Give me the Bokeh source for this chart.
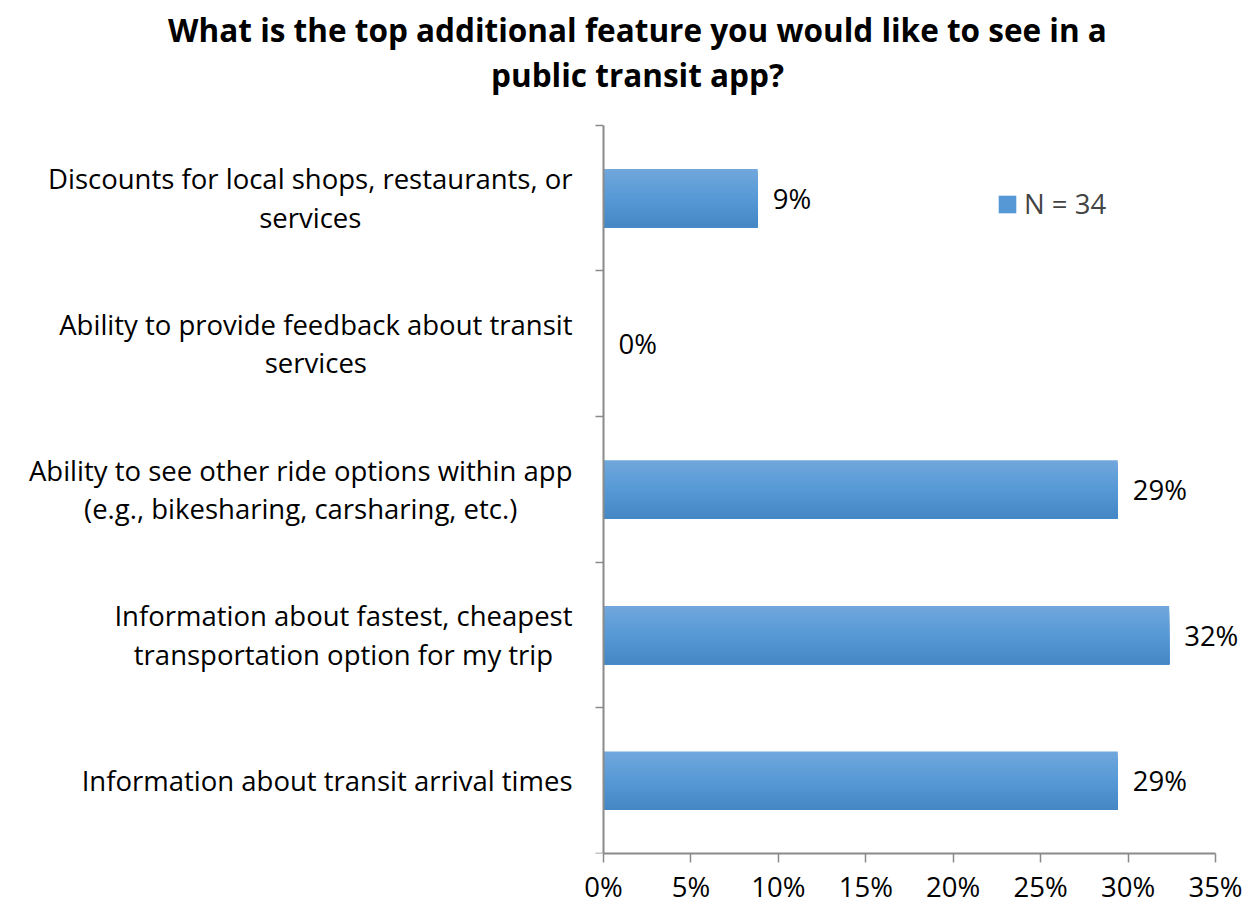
from bokeh.plotting import figure
from bokeh.models import (Range1d, FixedTicker, PrintfTickFormatter, ColumnDataSource,
                          LabelSet, Label, Legend, LegendItem)
from bokeh.core.properties import value
from bokeh.transform import dodge
from bokeh.embed import file_html
from bokeh.resources import INLINE

# ---- data ----
title_lines = ["What is the top additional feature you would like to see in a",
               "public transit app?"]
categories = [
    "Discounts for local shops, restaurants, or\nservices",
    "Ability to provide feedback about transit\nservices",
    "Ability to see other ride options within app\n(e.g., bikesharing, carsharing, etc.)",
    "Information about fastest, cheapest\ntransportation option for my trip",
    "Information about transit arrival times",
]
values = [8.82, 0.0, 29.41, 32.35, 29.41]
value_labels = ["9%", "0%", "29%", "32%", "29%"]
series_name = "N = 34"
x_ticks = [0, 5, 10, 15, 20, 25, 30, 35]

FONT = "Open Sans"
FS = "27.5px"
GRAY = "#8a8a8a"

# ---- layout constants (pixels) ----
W, H = 1250, 907
FL = 12            # frame left edge
AXIS_X = 603       # pixel where value 0 sits
AXIS_R = 1215      # pixel where the last tick sits
AXIS_TOP = 125     # top of the category area
AXIS_BOT = 855     # frame bottom / x axis
n = len(categories)
X_MAX = x_ticks[-1]
ppu = (AXIS_R - AXIS_X) / X_MAX
x_start = -(AXIS_X - FL) / ppu
x_end = (W - AXIS_X) / ppu
slot_px = (AXIS_BOT - AXIS_TOP) / n
y_end = n + AXIS_TOP / slot_px

pos = [n - i - 0.5 for i in range(n)]  # slot centres, top to bottom
src = ColumnDataSource(dict(cat=categories, pos=pos, value=values, label=value_labels))

p = figure(width=W, height=H, output_backend="svg", toolbar_location=None,
           y_range=Range1d(0, y_end), x_range=Range1d(x_start, x_end),
           min_border_left=FL, min_border_right=0, min_border_top=0,
           min_border_bottom=H - AXIS_BOT)
p.outline_line_color = None
p.xgrid.grid_line_color = None
p.ygrid.grid_line_color = None

# gradient bars: stacked bands, each reaching the bar bottom (light top -> dark bottom)
top_c = (112, 167, 220)
mid_c = (86, 153, 214)
bot_c = (70, 135, 198)
N = 24
bar_h = 0.40
hb = bar_h / N
mid_renderer = None
for i in range(N):
    t = i / (N - 1)
    if t < 0.5:
        a, b, tt = top_c, mid_c, t / 0.5
    else:
        a, b, tt = mid_c, bot_c, (t - 0.5) / 0.5
    col = "#%02x%02x%02x" % tuple(int(round(a[k] + (b[k] - a[k]) * tt)) for k in range(3))
    r = p.hbar(y=dodge("pos", -i * hb / 2), left=0, right="value", height=bar_h - i * hb,
               source=src, fill_color=col, line_color=None)
    if i == N // 2:
        mid_renderer = r

# value labels
p.add_layout(LabelSet(x="value", y="pos", text="label", source=src, x_offset=15,
                      text_baseline="middle", text_align="left", text_font=value(FONT),
                      text_font_size=FS, text_color="black"))

# category labels (lines centred, block right-aligned next to the axis)
p.text(x=0, y="pos", text="cat", source=src, x_offset=-31, anchor="center_right",
       text_align="center", text_baseline="middle", text_font=value(FONT),
       text_font_size=FS, text_line_height=1.04, text_color="black")

# y axis at value 0 with tick marks at slot boundaries
ya = p.yaxis[0]
ya.fixed_location = 0
ya.ticker = FixedTicker(ticks=[], minor_ticks=list(range(n + 1)))
ya.bounds = (0, n)
ya.axis_line_color = GRAY
ya.axis_line_width = 2
ya.major_tick_line_color = None
ya.major_tick_out = 0
ya.major_tick_in = 0
ya.major_label_standoff = 0
ya.minor_tick_line_color = GRAY
ya.minor_tick_line_width = 1.5
ya.minor_tick_out = 8
ya.minor_tick_in = 0

# x axis
xa = p.xaxis[0]
xa.ticker = FixedTicker(ticks=x_ticks)
xa.formatter = PrintfTickFormatter(format="%d%%")
xa.bounds = (0, X_MAX)
xa.major_tick_out = 9
xa.major_tick_in = 0
xa.minor_tick_line_color = None
xa.axis_line_color = GRAY
xa.axis_line_width = 2
xa.major_tick_line_color = GRAY
xa.major_tick_line_width = 1.5
xa.major_label_text_font = FONT
xa.major_label_text_font_size = FS
xa.major_label_text_color = "black"
xa.major_label_standoff = 5

# title (two centred lines)
for line, yc in zip(title_lines, [31, 76]):
    p.add_layout(Label(x=637 - FL, y=AXIS_BOT - yc, x_units="screen", y_units="screen",
                       text=line, text_align="center", text_baseline="middle",
                       text_font=FONT, text_font_size="31.5px", text_font_style="bold",
                       text_color="black"))

# legend
legend = Legend(items=[LegendItem(label=series_name, renderers=[mid_renderer])],
                location=(998 - FL - 2, 631), glyph_width=22, glyph_height=22, label_standoff=6,
                padding=0, margin=0, border_line_color=None, background_fill_alpha=0,
                label_text_font=FONT, label_text_font_size=FS)
p.add_layout(legend)

open("out.html", "w").write(file_html(p, INLINE))
